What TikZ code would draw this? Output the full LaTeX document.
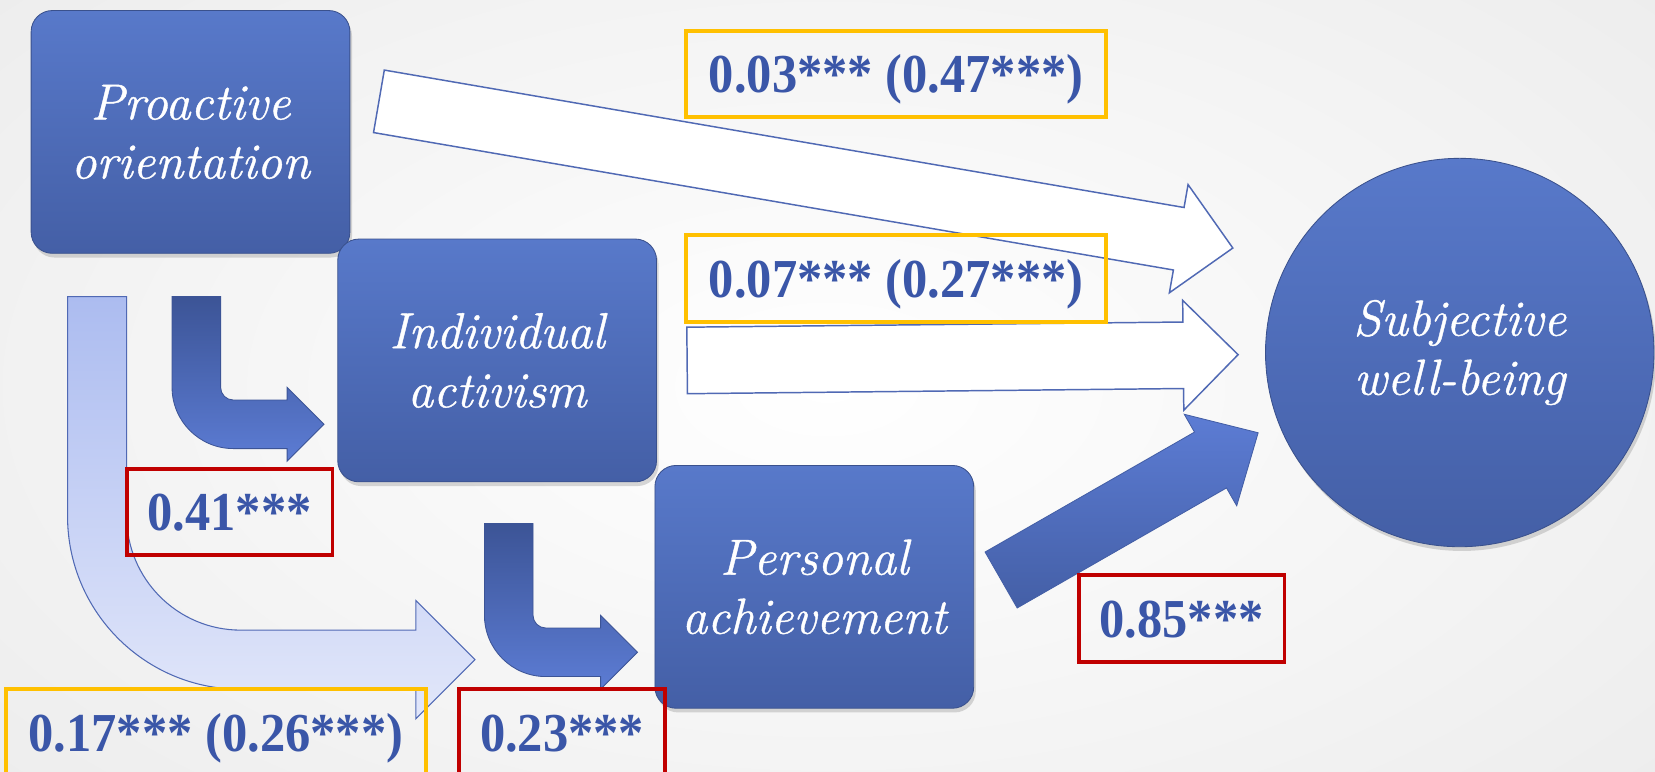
\documentclass[tikz,border=0pt]{standalone}
\usepackage{fontspec}
\usepackage{graphicx}
\usetikzlibrary{shadows}
\newfontfamily\numfont{Liberation Serif}
\newfontfamily\nodefont{Latin Modern Roman}[ItalicFeatures={FakeBold=0.8}]
\newcommand\palit{\nodefont\itshape\fontsize{24pt}{28pt}\selectfont}
\definecolor{boxtop}{RGB}{88,121,202}
\definecolor{boxbot}{RGB}{68,95,166}
\definecolor{numblue}{RGB}{58,86,168}
\definecolor{orangeb}{RGB}{255,192,0}
\definecolor{redb}{RGB}{192,0,0}
\definecolor{arrline}{RGB}{80,105,180}
\definecolor{lighttop}{RGB}{172,188,240}
\definecolor{lightbot}{RGB}{226,231,250}
\definecolor{darktop}{RGB}{60,84,150}
\definecolor{darkbot}{RGB}{92,124,212}
\tikzset{
  bluebox/.style={rectangle, rounded corners=10pt, minimum width=151pt, minimum height=115pt, inner sep=0pt,
    top color=boxtop, bottom color=boxbot, draw=boxbot!85!black, line width=0.4pt,
    drop shadow={shadow xshift=1pt, shadow yshift=-2pt, opacity=0.3},
    text=white, align=center, font=\palit},
  bluecircle/.style={circle, minimum size=184pt, inner sep=0pt,
    top color=boxtop, bottom color=boxbot, draw=boxbot!85!black, line width=0.4pt,
    drop shadow={shadow xshift=1pt, shadow yshift=-2pt, opacity=0.3},
    text=white, align=center, font=\palit},
  lab/.style={draw, line width=1.8pt, inner sep=0pt, minimum height=41pt, text height=17.6pt, text depth=0pt,
    text=numblue, font=\numfont\bfseries\fontsize{26pt}{30pt}\selectfont},
  orangelab/.style={lab, draw=orangeb, minimum width=199pt},
  redlab/.style={lab, draw=redb, minimum width=97.5pt},
  whitearrow/.style={fill=white, draw=arrline, line width=0.7pt, line join=miter},
  lightarrow/.style={top color=lighttop, bottom color=lightbot, draw=arrline, line width=0.5pt},
  darkarrow/.style={top color=darktop, bottom color=darkbot, draw=darktop, line width=0.4pt},
  solidarrow/.style={top color=darkbot, bottom color=boxbot, draw=boxbot, line width=0.4pt}
}
\begin{document}
\begin{tikzpicture}[x=0.5pt,y=-0.5pt]
\useasboundingbox (0,0) rectangle (1568,731);
\clip (0,0) rectangle (1568,731);
\shade[inner color=white, outer color=black!7] (-250,-200) rectangle (1818,931);

% nodes
\node[bluebox] (po) at (180.5,125) {Proactive\\orientation};
\node[bluebox] (ia) at (471,341.5) {Individual\\activism};
\node[bluebox] (pa) at (771.5,556) {Personal\\achievement};
\node[bluecircle] (swb) at (1383,334) {Subjective\\well-being};

% block arrows
\draw[whitearrow] (364.1,66.4) -- (1121.8,196.6) -- (1125.6,174.9) -- (1168,235) -- (1107.9,277.4) -- (1111.7,255.8) -- (353.9,125.6) -- cycle;
\draw[whitearrow] (650.7,310.0) -- (1120.7,305.1) -- (1120.5,284.6) -- (1173,336) -- (1121.6,388.6) -- (1121.3,368.1) -- (651.3,373.0) -- cycle;
\draw[solidarrow] (933.3,523.0) -- (1131.7,409.4) -- (1122.0,392.5) -- (1192,410) -- (1171.7,479.2) -- (1162.0,462.3) -- (963.7,576.0) -- cycle;
\draw[lightarrow] (64,281) -- (120,281) -- (120,489) .. controls (120,548.6) and (168.4,597) .. (228,597) -- (394,597) -- (394,569) -- (450,625) -- (394,681) -- (394,653) -- (228,653) .. controls (137.4,653) and (64,579.6) .. (64,489) -- cycle;
\draw[darkarrow] (163,281) -- (209,281) -- (209,367) .. controls (209,373.6) and (214.4,379) .. (221,379) -- (272,379) -- (272,367) -- (307,402) -- (272,437) -- (272,425) -- (221,425) .. controls (189,425) and (163,399) .. (163,367) -- cycle;
\draw[darkarrow] (459,496) -- (505,496) -- (505,583) .. controls (505,589.6) and (510.4,595) .. (517,595) -- (569,595) -- (569,583) -- (604,618) -- (569,653) -- (569,641) -- (517,641) .. controls (485,641) and (459,615) .. (459,583) -- cycle;

% labels
\node[orangelab] (l1) at (849,70) {\scalebox{0.92}[1]{0.03*** (0.47***)}};
\node[orangelab] (l2) at (849,264) {\scalebox{0.92}[1]{0.07*** (0.27***)}};
\node[orangelab] (l3) at (204.5,694) {\scalebox{0.92}[1]{0.17*** (0.26***)}};
\node[redlab] (l4) at (217.5,485) {\scalebox{0.92}[1]{0.41***}};
\node[redlab] (l5) at (532.5,694) {\scalebox{0.92}[1]{0.23***}};
\node[redlab] (l6) at (1119.5,586) {\scalebox{0.92}[1]{0.85***}};
\end{tikzpicture}
\end{document}
